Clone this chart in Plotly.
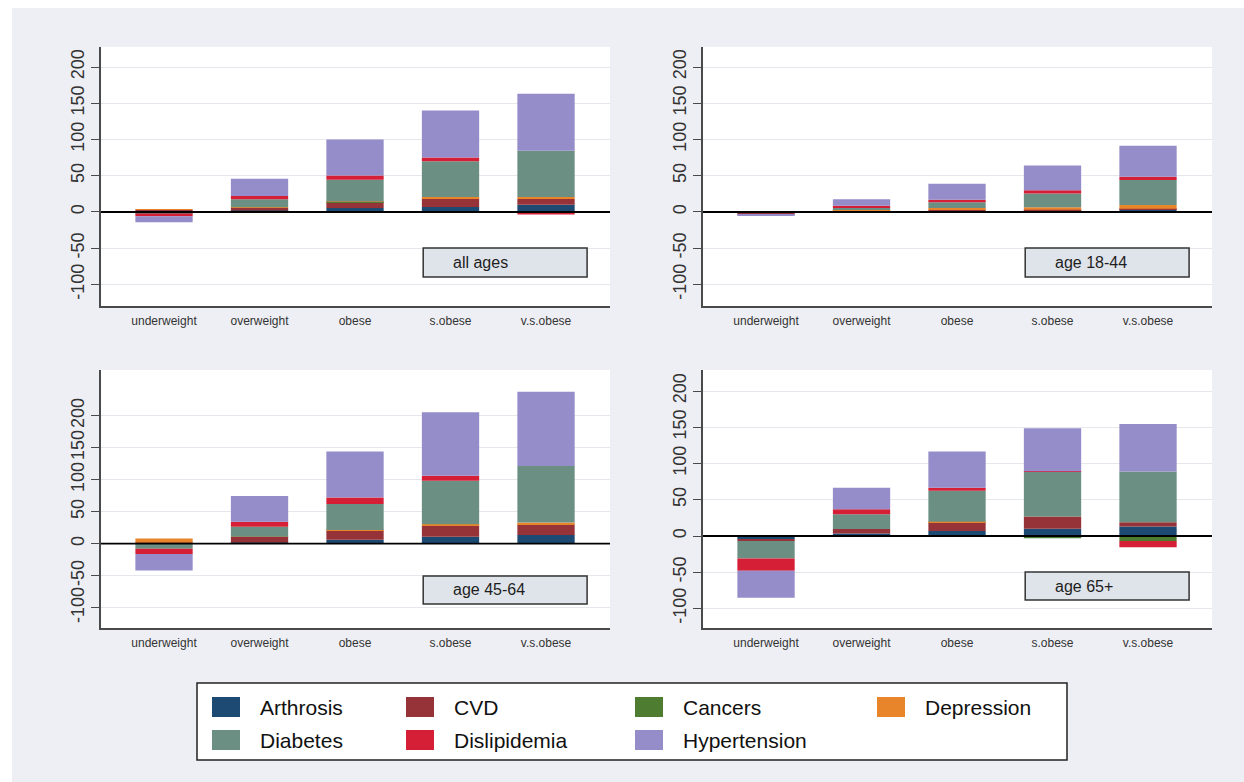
import plotly.graph_objects as go
from plotly.subplots import make_subplots

W, H = 1244, 782

categories = ["underweight", "overweight", "obese", "s.obese", "v.s.obese"]
conditions = ["Arthrosis", "CVD", "Cancers", "Depression",
              "Diabetes", "Dislipidemia", "Hypertension"]
colors = ["#1c4a72", "#963339", "#4e7d31", "#e8842a",
          "#6b9083", "#d41f37", "#958cca"]

# Rows follow `conditions`, columns follow `categories`
all_ages = [
    [-1, 2, 5.5, 7, 10],
    [3, 4, 8, 12, 8],
    [0, 0, 0.5, 0, -0.5],
    [1, 0.5, 0.5, 1.5, 2.5],
    [-1, 11, 30, 49.5, 64],
    [-4, 4.5, 6, 5, -3],
    [-8, 24, 49.5, 65, 78.5],
]
age_18_44 = [
    [-0.5, 0.5, 1, 1.5, 3],
    [-2.5, 2, 2.5, 1.5, 1.5],
    [0, 0, 0, 0, 0],
    [0, 1.5, 2, 3.5, 5],
    [0, 1.5, 8, 19, 34.5],
    [-1, 3, 3.5, 4.5, 4.5],
    [-1.5, 9, 22, 34, 43],
]
age_45_64 = [
    [1, 2, 6, 11, 13.5],
    [1, 8.5, 14.5, 17, 17],
    [0, 0, 0, 0, 0],
    [6, 0.5, 1, 2.5, 2.5],
    [-8, 15.5, 40.5, 68, 88.5],
    [-8, 8, 10, 7.5, 0],
    [-26, 40, 72, 99.5, 116],
]
age_65_plus = [
    [-4, 3.5, 7, 10, 13],
    [-3, 6, 12, 17, 6],
    [0, 0, 0, -3, -7],
    [0.5, -1, 0.5, 0, 0],
    [-24, 20.5, 43, 61.5, 70],
    [-17, 7, 4, 1, -8.5],
    [-37, 29.5, 50, 59, 65.5],
]

panel_data = [all_ages, age_18_44, age_45_64, age_65_plus]
panel_labels = ["all ages", "age 18-44", "age 45-64", "age 65+"]
y_tick_values = [-100, -50, 0, 50, 100, 150, 200]
y_ranges = [[-129.7, 227.6], [-129.7, 227.6], [-131.7, 271.4], [-126.9, 229.0]]

FONT = "Liberation Sans, Arial, Helvetica, sans-serif"
PAGE_GRAY = "#eeeff4"
AXIS_COLOR = "#4a4a4a"


def px_x(v):
    return v / W


def px_y(v):
    return 1 - v / H


# subplot placement (pixels)
col_px = [(101, 610), (703, 1212)]
row_px = [(47, 306), (370, 628)]
grid_pos = [(1, 1), (1, 2), (2, 1), (2, 2)]

# label-box placement inside each subplot (axis-domain fractions)
box_x = (0.633, 0.955)
box_y = [(0.112, 0.224), (0.112, 0.224), (0.093, 0.2016), (0.1085, 0.217)]
box_text_x = 0.688

fig = make_subplots(rows=2, cols=2)

for table, (r, c) in zip(panel_data, grid_pos):
    for name, color, values in zip(conditions, colors, table):
        fig.add_trace(
            go.Bar(x=categories, y=values, name=name,
                   marker=dict(color=color, line=dict(width=0)),
                   showlegend=False),
            row=r, col=c,
        )

layout_axes = {}
shapes = []
annotations = []

# page background: white rim on the top and left
shapes.append(dict(type="rect", xref="paper", yref="paper",
                   x0=0, x1=px_x(12), y0=0, y1=1,
                   fillcolor="white", line=dict(width=0), layer="below"))
shapes.append(dict(type="rect", xref="paper", yref="paper",
                   x0=0, x1=1, y0=px_y(8), y1=1,
                   fillcolor="white", line=dict(width=0), layer="below"))

for i, (r, c) in enumerate(grid_pos):
    s = "" if i == 0 else str(i + 1)
    x0, x1 = col_px[c - 1]
    y0, y1 = row_px[r - 1]
    layout_axes["xaxis" + s] = dict(
        domain=[px_x(x0), px_x(x1)],
        range=[-0.66, 4.67],
        showline=True, linecolor=AXIS_COLOR, linewidth=1.5,
        ticks="", showgrid=False, zeroline=False,
        ticklabelstandoff=3,
        tickfont=dict(size=12, color="#333333", family=FONT),
        fixedrange=True,
    )
    layout_axes["yaxis" + s] = dict(
        domain=[px_y(y1), px_y(y0)],
        range=y_ranges[i],
        tickmode="array", tickvals=y_tick_values,
        ticktext=[str(v) for v in y_tick_values],
        tickangle=-90,
        showline=True, linecolor=AXIS_COLOR, linewidth=1.5,
        ticks="outside", ticklen=8, tickwidth=1.2, tickcolor=AXIS_COLOR,
        showgrid=True, gridcolor="#e6e7ed", gridwidth=1,
        zeroline=False,
        tickfont=dict(size=18, color="#333333", family=FONT),
        fixedrange=True,
    )
    # zero reference line drawn over the bars
    shapes.append(dict(type="line", xref=f"x{s} domain", yref=f"y{s}",
                       x0=0, x1=1, y0=0, y1=0,
                       line=dict(color="black", width=1.8), layer="above"))
    # panel label box
    by0, by1 = box_y[i]
    shapes.append(dict(type="rect", xref=f"x{s} domain", yref=f"y{s} domain",
                       x0=box_x[0], x1=box_x[1], y0=by0, y1=by1,
                       fillcolor="#dfe4eb", line=dict(color="#333333", width=1.5),
                       layer="above"))
    annotations.append(dict(xref=f"x{s} domain", yref=f"y{s} domain",
                            x=box_text_x, y=(by0 + by1) / 2,
                            xanchor="left", yanchor="middle",
                            text=panel_labels[i], showarrow=False,
                            font=dict(size=16, color="#1e1e1e", family=FONT)))

# legend panel
shapes.append(dict(type="rect", xref="paper", yref="paper",
                   x0=px_x(197), x1=px_x(1067), y0=px_y(760), y1=px_y(683),
                   fillcolor="white", line=dict(color="#222222", width=1.5),
                   layer="above"))
legend_cols = [212, 406, 635, 877]
legend_rows = [707, 740]
for k, (name, color) in enumerate(zip(conditions, colors)):
    row, col = divmod(k, 4)
    sx = legend_cols[col]
    cy = legend_rows[row]
    shapes.append(dict(type="rect", xref="paper", yref="paper",
                       x0=px_x(sx), x1=px_x(sx + 28),
                       y0=px_y(cy + 10), y1=px_y(cy - 10),
                       fillcolor=color, line=dict(width=0), layer="above"))
    annotations.append(dict(xref="paper", yref="paper",
                            x=px_x(sx + 46), y=px_y(cy),
                            xanchor="left", yanchor="middle",
                            text=name, showarrow=False,
                            font=dict(size=21, color="#111111", family=FONT)))

fig.update_layout(
    width=W, height=H, autosize=False,
    margin=dict(l=0, r=0, t=0, b=0),
    paper_bgcolor=PAGE_GRAY, plot_bgcolor="white",
    barmode="relative", bargap=0.4,
    showlegend=False,
    font=dict(family=FONT),
    shapes=shapes, annotations=annotations,
    **layout_axes,
)

fig.write_html("out.html", config={"displayModeBar": False})
